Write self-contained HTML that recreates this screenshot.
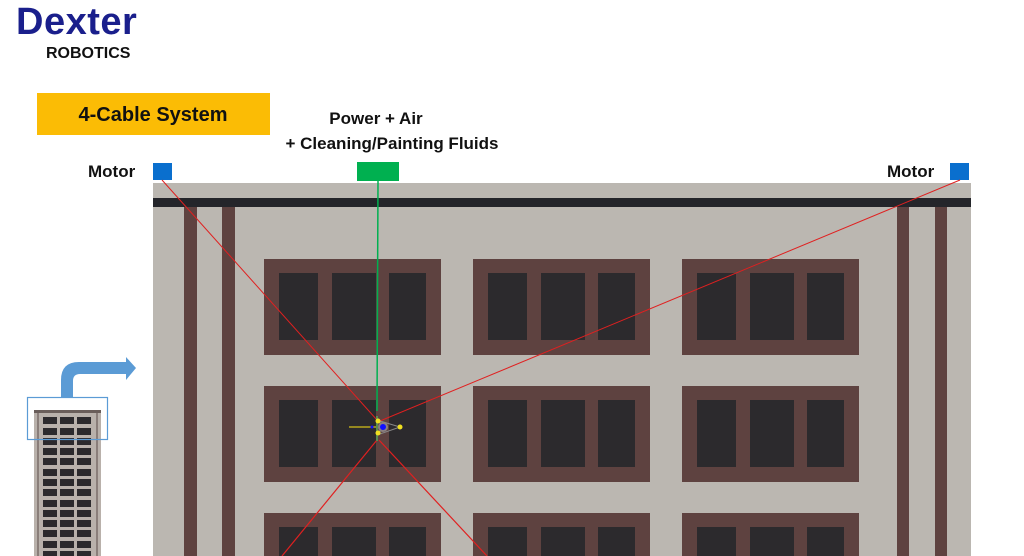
<!DOCTYPE html>
<html><head><meta charset="utf-8"><style>
html,body{margin:0;padding:0;background:#fff;width:1024px;height:556px;overflow:hidden}
svg{display:block;overflow:hidden}
text{font-family:"Liberation Sans",sans-serif;font-weight:bold}
</style></head><body>
<svg width="1024" height="556" viewBox="0 0 1024 556" xmlns="http://www.w3.org/2000/svg">
<defs>
<g id="win">
<rect x="0" y="0" width="177" height="96" fill="#5e4240"/>
<rect x="15" y="14" width="39" height="67" fill="#2c2a2d"/>
<rect x="68" y="14" width="44" height="67" fill="#2c2a2d"/>
<rect x="125" y="14" width="37" height="67" fill="#2c2a2d"/>
</g>
<g id="sw">
<rect x="0" y="0" width="14" height="7" fill="#2c2a2d"/>
<rect x="17" y="0" width="14" height="7" fill="#2c2a2d"/>
<rect x="34" y="0" width="14" height="7" fill="#2c2a2d"/>
</g>
<clipPath id="c"><rect x="0" y="0" width="1024" height="556"/></clipPath>
</defs>
<g clip-path="url(#c)">
<text x="16" y="34" font-size="38" fill="#1a1f8c" letter-spacing="0.5">Dexter</text>
<text x="46" y="58" font-size="16" fill="#111">ROBOTICS</text>
<rect x="37" y="93" width="233" height="42" fill="#fbbc05"/>
<text x="153" y="121" font-size="20" fill="#111" text-anchor="middle">4-Cable System</text>
<text x="376" y="124" font-size="17" fill="#111" text-anchor="middle">Power + Air</text>
<text x="392" y="149" font-size="17" fill="#111" text-anchor="middle">+ Cleaning/Painting Fluids</text>
<text x="88" y="177" font-size="17" fill="#111">Motor</text>
<text x="887" y="177" font-size="17" fill="#111">Motor</text>
<rect x="153" y="183" width="818" height="373" fill="#bbb7b1"/>
<rect x="153" y="198" width="818" height="9" fill="#24252a"/>
<rect x="184" y="207" width="13" height="349" fill="#5e4240"/>
<rect x="222" y="207" width="13" height="349" fill="#5e4240"/>
<rect x="897" y="207" width="12" height="349" fill="#5e4240"/>
<rect x="935" y="207" width="12" height="349" fill="#5e4240"/>
<use href="#win" x="264" y="259"/><use href="#win" x="473" y="259"/><use href="#win" x="682" y="259"/>
<use href="#win" x="264" y="386"/><use href="#win" x="473" y="386"/><use href="#win" x="682" y="386"/>
<use href="#win" x="264" y="513"/><use href="#win" x="473" y="513"/><use href="#win" x="682" y="513"/>
<rect x="153" y="163" width="19" height="17" fill="#0a6fce"/>
<rect x="950" y="163" width="19" height="17" fill="#0a6fce"/>
<rect x="357" y="162" width="42" height="19" fill="#00b050"/>
<line x1="378" y1="181" x2="377" y2="411" stroke="#00b050" stroke-width="1.5"/>
<line x1="162" y1="180" x2="377" y2="420" stroke="#e02020" stroke-width="1"/>
<line x1="960" y1="180" x2="380" y2="421" stroke="#e02020" stroke-width="1"/>
<line x1="282" y1="556" x2="377" y2="440" stroke="#e02020" stroke-width="1.2"/>
<line x1="487" y1="556" x2="379" y2="440" stroke="#e02020" stroke-width="1.2"/>
<line x1="349" y1="427" x2="377" y2="427" stroke="#b8a81c" stroke-width="1.5"/>
<line x1="377" y1="416" x2="377" y2="441" stroke="#5a8a50" stroke-width="2"/>
<polygon points="380,421 400,427 380,434" fill="none" stroke="#888" stroke-width="1"/>
<circle cx="383" cy="427" r="5" fill="#8a8080"/>
<circle cx="383" cy="427" r="3" fill="#1010ff"/>
<circle cx="378" cy="421" r="2.5" fill="#f0e020"/>
<circle cx="378" cy="433" r="2.5" fill="#f0e020"/>
<circle cx="400" cy="427" r="2.5" fill="#f0e020"/>
<circle cx="372" cy="427" r="1.5" fill="#1010ff"/>
<rect x="34" y="410" width="67" height="146" fill="#b9b1ab"/>
<rect x="34" y="410" width="67" height="3" fill="#6a5e5a"/>
<rect x="37" y="413" width="2" height="143" fill="#8a7e7a"/>
<rect x="96" y="413" width="2" height="143" fill="#8a7e7a"/>
<g>
<use href="#sw" x="43" y="417"/><use href="#sw" x="43" y="428"/><use href="#sw" x="43" y="438"/>
<use href="#sw" x="43" y="448"/><use href="#sw" x="43" y="458"/><use href="#sw" x="43" y="469"/>
<use href="#sw" x="43" y="479"/><use href="#sw" x="43" y="489"/><use href="#sw" x="43" y="500"/>
<use href="#sw" x="43" y="510"/><use href="#sw" x="43" y="520"/><use href="#sw" x="43" y="530"/>
<use href="#sw" x="43" y="541"/><use href="#sw" x="43" y="551"/>
</g>
<rect x="27.5" y="397.5" width="80" height="42" fill="none" stroke="#5b9bd5" stroke-width="1.2"/>
<path d="M61,397 L61,380 Q61,362 79,362 L126,362 L126,357 L136,368 L126,380 L126,374 L80,374 Q73,374 73,381 L73,397 Z" fill="#5b9bd5"/>
</g>
</svg>
</body></html>
